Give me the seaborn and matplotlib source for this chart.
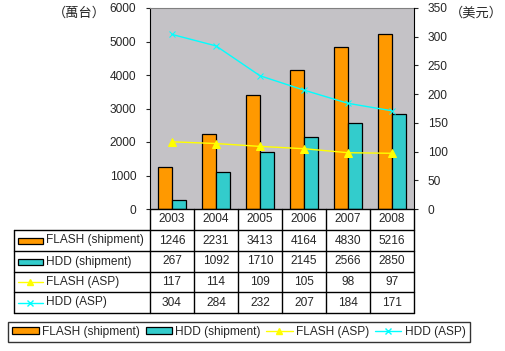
import matplotlib
matplotlib.use("Agg")
import matplotlib.pyplot as plt
import seaborn as sns
import pandas as pd
from matplotlib.patches import Rectangle
from matplotlib.lines import Line2D

years = ["2003", "2004", "2005", "2006", "2007", "2008"]
flash_ship = [1246, 2231, 3413, 4164, 4830, 5216]
hdd_ship = [267, 1092, 1710, 2145, 2566, 2850]
flash_asp = [117, 114, 109, 105, 98, 97]
hdd_asp = [304, 284, 232, 207, 184, 171]
series_names = ["FLASH (shipment)", "HDD (shipment)", "FLASH (ASP)", "HDD (ASP)"]

C_FLASH = "#FF9900"
C_HDD = "#33CCCC"
C_FASP = "#FFFF00"
C_HASP = "#00FFFF"
FS = 8.6

sns.set_style("white")
plt.rcParams['font.family'] = ['Liberation Sans', 'Noto Sans CJK TC', 'DejaVu Sans']

W, H = 506, 351
fig = plt.figure(figsize=(W / 100, H / 100), dpi=100)

def fx(px):
    return px / W

def fy(py):
    return 1 - py / H

L, R, T, B = 150, 414, 8, 209
ax = fig.add_axes([fx(L), fy(B), fx(R) - fx(L), fy(T) - fy(B)])
ax.set_facecolor("#C4C2C6")

bars = pd.DataFrame({
    "year": years * 2,
    "value": flash_ship + hdd_ship,
    "series": [series_names[0]] * 6 + [series_names[1]] * 6,
})
sns.barplot(data=bars, x="year", y="value", hue="series", ax=ax,
            palette=[C_FLASH, C_HDD], width=0.62, edgecolor="black",
            linewidth=0.9, saturation=1, legend=False)
ax.set_ylim(0, 6000)
ax.set_xlim(-0.5, 5.5)
ax.set_yticks(range(0, 6001, 1000))
ax.set_xticks([])
ax.set_xlabel("")
ax.set_ylabel("")
ax.tick_params(axis="y", labelsize=FS, length=3, width=0.8, direction="out",
               left=True, pad=7)
ax.spines["top"].set_color("#808080")
ax.spines["top"].set_linewidth(0.8)
ax.spines["left"].set_color("black")
ax.spines["left"].set_linewidth(0.8)
ax.spines["bottom"].set_visible(False)
ax.spines["right"].set_visible(False)

ax2 = ax.twinx()
lines = pd.DataFrame({
    "year": years * 2,
    "value": flash_asp + hdd_asp,
    "series": [series_names[2]] * 6 + [series_names[3]] * 6,
})
sns.pointplot(data=lines[lines.series == series_names[2]], x="year", y="value",
              ax=ax2, color=C_FASP, markers="^", markersize=6, linewidth=1.0)
sns.pointplot(data=lines[lines.series == series_names[3]], x="year", y="value",
              ax=ax2, color=C_HASP, markers="x", markersize=5, linewidth=1.0)
ax2.set_ylim(0, 350)
ax2.set_xlim(-0.5, 5.5)
ax2.set_yticks(range(0, 351, 50))
ax2.set_xlabel("")
ax2.set_ylabel("")
ax2.tick_params(axis="y", labelsize=FS, length=3, width=0.8, direction="out",
                right=True, pad=7)
for s in ["top", "left", "bottom"]:
    ax2.spines[s].set_visible(False)
ax2.spines["right"].set_color("black")
ax2.spines["right"].set_linewidth(0.8)

fig.text(fx(79), fy(13), "（萬台）", fontsize=9.5, ha="center", va="center",
         family=['Noto Sans CJK TC', 'DejaVu Sans'])
fig.text(fx(476), fy(13), "（美元）", fontsize=9.5, ha="center", va="center",
         family=['Noto Sans CJK TC', 'DejaVu Sans'])

# Data table
TL, TR, TT, TB = 14, 414, 209, 313
tax = fig.add_axes([fx(TL), fy(TB), fx(TR) - fx(TL), fy(TT) - fy(TB)])
tax.set_xlim(TL, TR)
tax.set_ylim(TB, TT)
tax.axis("off")
row_y = [209, 230, 251, 272, 292, 313]
col_x = [L + i * (R - L) / 6 for i in range(7)]
lw = 1.0
tax.plot([L, R], [row_y[0], row_y[0]], color="black", lw=lw, clip_on=False)
for yy in row_y[1:]:
    tax.plot([TL, R], [yy, yy], color="black", lw=lw, clip_on=False)
for xx in col_x:
    tax.plot([xx, xx], [row_y[0], row_y[-1]], color="black", lw=lw, clip_on=False)
tax.plot([TL, TL], [row_y[1], row_y[-1]], color="black", lw=lw, clip_on=False)

def cy(i):
    return (row_y[i] + row_y[i + 1]) / 2

for j, yr in enumerate(years):
    tax.text((col_x[j] + col_x[j + 1]) / 2, cy(0), yr, ha="center", va="center", fontsize=FS)
vals = [flash_ship, hdd_ship, flash_asp, hdd_asp]
for i, row in enumerate(vals):
    for j, v in enumerate(row):
        tax.text((col_x[j] + col_x[j + 1]) / 2, cy(i + 1), str(v), ha="center",
                 va="center", fontsize=FS)
    tax.text(46, cy(i + 1), series_names[i], ha="left", va="center", fontsize=FS)
for i, c in enumerate([C_FLASH, C_HDD]):
    tax.add_patch(Rectangle((18.5, cy(i + 1) - 3), 24, 6, facecolor=c,
                            edgecolor="black", lw=0.9))
tax.plot([18, 43], [cy(3), cy(3)], color=C_FASP, lw=1)
tax.plot([30.5], [cy(3)], marker="^", color=C_FASP, ms=5)
tax.plot([18, 43], [cy(4), cy(4)], color=C_HASP, lw=1)
tax.plot([30.5], [cy(4)], marker="x", color=C_HASP, ms=4)

handles = [
    Rectangle((0, 0), 1, 1, facecolor=C_FLASH, edgecolor="black", lw=0.9),
    Rectangle((0, 0), 1, 1, facecolor=C_HDD, edgecolor="black", lw=0.9),
    Line2D([], [], color=C_FASP, marker="^", ms=5, lw=1),
    Line2D([], [], color=C_HASP, marker="x", ms=4, lw=1),
]
leg = fig.legend(handles, series_names, loc="center", ncol=4,
                 bbox_to_anchor=(fx(239), fy(332)), fontsize=FS, frameon=True,
                 fancybox=False, edgecolor="black", handlelength=2.2,
                 handleheight=0.5, handletextpad=0.3, columnspacing=0.45,
                 borderpad=0.35, borderaxespad=0)
leg.get_frame().set_linewidth(1.0)

fig.savefig("out.png", dpi=100)
